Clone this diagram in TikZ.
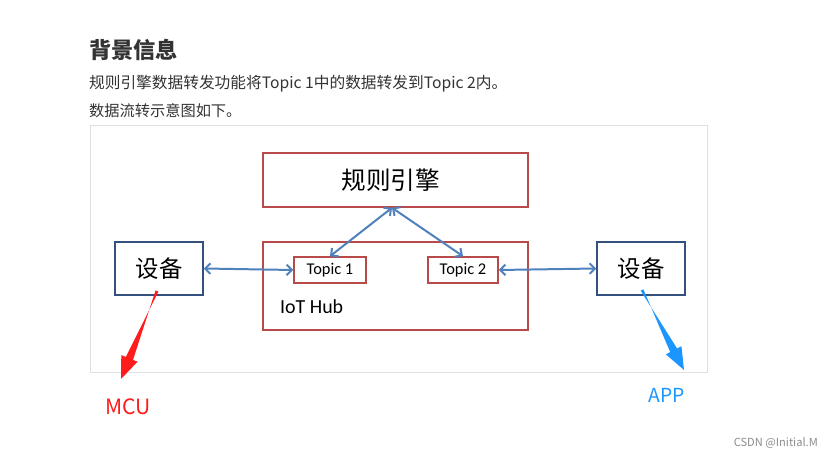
\documentclass[tikz,border=0pt]{standalone}
\usepackage{fontspec}
\usepackage{tikz}
\usetikzlibrary{calc,arrows.meta}
\newfontfamily\cjk{Noto Sans CJK SC}
\newfontfamily\cali{Carlito}

\definecolor{boxred}{RGB}{184,74,74}
\definecolor{devblue}{RGB}{52,80,126}
\definecolor{linkblue}{RGB}{79,129,189}
\definecolor{mcured}{RGB}{255,28,28}
\definecolor{appblue}{RGB}{28,150,255}
\definecolor{textgray}{RGB}{51,51,51}

\begin{document}
\begin{tikzpicture}[x=0.03cm, y=-0.03cm, >={Straight Barb[length=4.5pt,width=9pt]},
  redbox/.style={draw=boxred, line width=1.3pt},
  devbox/.style={draw=devblue, line width=1.3pt, minimum width=2.64cm, minimum height=1.59cm,
    font=\cjk\fontsize{20}{20}\selectfont},
  topicbox/.style={redbox, minimum height=0.78cm, font=\cali\fontsize{14}{14}\selectfont},
  link/.style={<->, draw=linkblue, line width=1.7pt}]

% Page
\useasboundingbox[fill=white] (0,0) rectangle (834,459);

% Heading and intro lines
\node[anchor=west, text=textgray, font=\cjk\bfseries\fontsize{19}{19}\selectfont] (title) at (85,50) {背景信息};
\node[anchor=west, text=textgray, font=\cjk\fontsize{13.4}{13.4}\selectfont] (line1) at (85,84)
  {规则引擎数据转发功能将Topic 1中的数据转发到Topic 2内。};
\node[anchor=west, text=textgray, font=\cjk\fontsize{13}{13}\selectfont] (line2) at (85,111)
  {数据流转示意图如下。};

% Picture frame
\draw[black!12, line width=0.8pt] (90,125) rectangle (707,372);

% Boxes
\node[redbox, minimum width=7.95cm, minimum height=1.62cm,
  font=\cjk\fontsize{21}{21}\selectfont] (rule) at (395.5,180) {\hspace*{-8pt}规则引擎};
\node[redbox, minimum width=7.95cm, minimum height=2.64cm] (hub) at (395.5,286) {};
\node[font=\cali\fontsize{17}{17}\selectfont, anchor=west] (hubname) at (276,307) {IoT Hub};
\node[topicbox, minimum width=2.16cm] (topicA) at (330,270) {Topic 1};
\node[topicbox, minimum width=2.1cm] (topicB) at (463,270) {Topic 2};
\node[devbox] (devL) at (159,268.5) {设备};
\node[devbox] (devR) at (641,268.5) {设备};

% Data flow
\coordinate (hubtop) at ([xshift=-3pt]rule.south);
\draw[link] (devL.east) -- (topicA.west);
\draw[link] (topicB.east) -- (devR.west);
\draw[link] (hubtop) -- (topicA.north);
\draw[link] (hubtop) -- (topicB.north);

% Pointer arrows
\coordinate (mcuS) at (157,291);
\coordinate (mcuT) at (121,379);
\coordinate (mcuH) at ($(mcuT)!19pt!(mcuS)$);
\fill[mcured] ($(mcuS)!1.3pt!90:(mcuT)$) -- ($(mcuH)!3.3pt!-90:(mcuT)$) -- ($(mcuH)!7.5pt!-90:(mcuT)$)
  -- (mcuT) -- ($(mcuH)!7.5pt!90:(mcuT)$) -- ($(mcuH)!3.3pt!90:(mcuT)$) -- ($(mcuS)!1.3pt!-90:(mcuT)$) -- cycle;

\coordinate (appS) at (642,290);
\coordinate (appT) at (684,370);
\coordinate (appH) at ($(appT)!19pt!(appS)$);
\fill[appblue] ($(appS)!1.3pt!90:(appT)$) -- ($(appH)!3.3pt!-90:(appT)$) -- ($(appH)!7.5pt!-90:(appT)$)
  -- (appT) -- ($(appH)!7.5pt!90:(appT)$) -- ($(appH)!3.3pt!90:(appT)$) -- ($(appS)!1.3pt!-90:(appT)$) -- cycle;

\node[text=mcured, font=\cjk\fontsize{18}{18}\selectfont] (mcu) at (128,407) {MCU};
\node[text=appblue, font=\cjk\fontsize{16.5}{16.5}\selectfont] (app) at (667,395) {APP};

% Watermark
\node[text=black!45, font=\cjk\fontsize{9.5}{9.5}\selectfont, anchor=east] (mark) at (822,443) {CSDN @Initial.M};

\end{tikzpicture}
\end{document}
